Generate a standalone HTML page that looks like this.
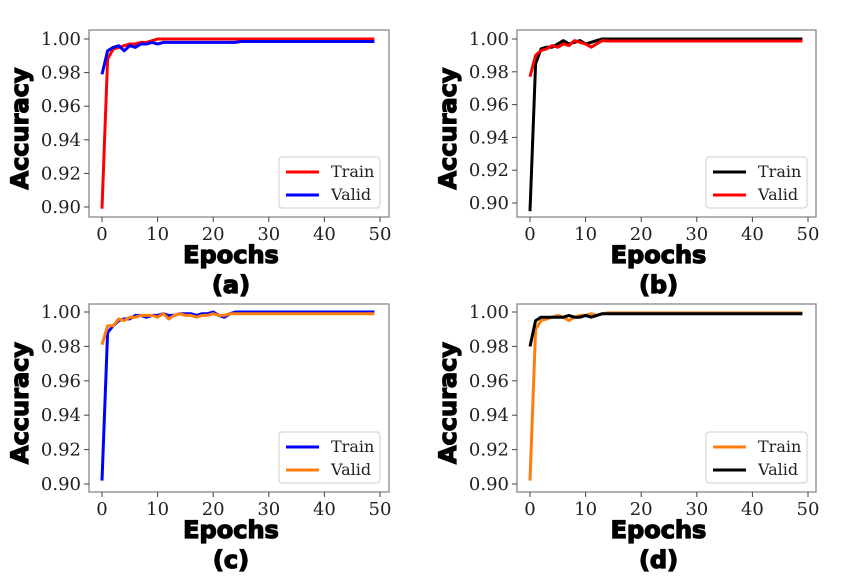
<!DOCTYPE html>
<html><head><meta charset="utf-8"><style>
body{margin:0;background:#fff;width:856px;height:585px;overflow:hidden}
svg{display:block}
.tick{font-family:"DejaVu Serif","Liberation Serif",serif;font-size:18px;fill:#222}
.lab{font-family:"DejaVu Sans","Liberation Sans",sans-serif;font-weight:bold;font-size:24px;fill:#000;stroke:#000;stroke-width:1.3px}
.leg{font-family:"DejaVu Serif","Liberation Serif",serif;font-size:16px;fill:#222}
</style></head><body>
<svg id="chart" width="856" height="585" viewBox="0 0 856 585"></svg>
<script>
const epochs = Array.from({length:50},(_,i)=>i);
const xTicks = [0,10,20,30,40,50];
const yTicks = [0.90,0.92,0.94,0.96,0.98,1.00];
function pad(a,v){const r=a.slice();while(r.length<50)r.push(v);return r;}
const aTrain = pad([0.899,0.988,0.994,0.995,0.996,0.997,0.997,0.998,0.998,0.999,1.0],1.0);
const aValid = pad([0.979,0.993,0.995,0.996,0.993,0.996,0.995,0.997,0.997,0.998,0.997,0.998,0.998,0.998,0.998,0.998,0.998,0.998,0.998,0.998,0.998,0.998,0.998,0.998,0.998],0.9985);
const bTrain = pad([0.895,0.985,0.994,0.995,0.995,0.997,0.999,0.997,0.998,0.999,0.997,0.998,0.999,1.0],1.0);
const bValid = pad([0.977,0.990,0.993,0.994,0.996,0.995,0.997,0.996,0.999,0.998,0.997,0.995,0.997,0.999],0.9988);
const cTrain = pad([0.902,0.988,0.992,0.995,0.996,0.996,0.998,0.998,0.997,0.998,0.998,0.999,0.998,0.998,0.999,0.999,0.999,0.998,0.999,0.999,1.0,0.998,0.997,0.999],1.0);
const cValid = pad([0.981,0.992,0.992,0.996,0.995,0.997,0.997,0.998,0.998,0.998,0.997,0.999,0.996,0.998,0.999,0.998,0.998,0.997,0.998,0.998,0.999,0.998,0.998,0.999],0.999);
const dTrain = pad([0.902,0.990,0.995,0.996,0.997,0.998,0.997,0.995,0.997,0.998,0.998,0.999,0.998,0.999],0.9995);
const dValid = pad([0.980,0.995,0.997,0.997,0.997,0.997,0.997,0.998,0.997,0.997,0.998,0.997,0.998,0.999],0.999);

const panels = [
 {id:'a',bx:89,by:30,bw:300,bh:187,x0:102,x1:380,y1:39,y0:207,s:[aTrain,aValid],c:['#ff0000','#0000ff'],ord:[0,1]},
 {id:'b',bx:517,by:30,bw:299,bh:187,x0:530,x1:808,y1:39,y0:203,s:[bTrain,bValid],c:['#000000','#ff0000'],ord:[0,1]},
 {id:'c',bx:89,by:304,bw:300,bh:188,x0:102,x1:380,y1:312,y0:484,s:[cTrain,cValid],c:['#0000ff','#ff7f0e'],ord:[0,1]},
 {id:'d',bx:517,by:304,bw:299,bh:188,x0:530,x1:808,y1:312,y0:484,s:[dTrain,dValid],c:['#ff7f0e','#000000'],ord:[0,1]}
];
const NS='http://www.w3.org/2000/svg';
const svg=document.getElementById('chart');
function mk(tag,attrs,parent,text){const e=document.createElementNS(NS,tag);for(const k in attrs)e.setAttribute(k,attrs[k]);if(text!==undefined)e.textContent=text;(parent||svg).appendChild(e);return e;}
panels.forEach(p=>{
 const g=mk('g',{});
 
 
 const X=v=>p.x0+(v/50)*(p.x1-p.x0);
 const Y=v=>p.y0+(v-0.90)/0.10*(p.y1-p.y0);
 const box=mk('rect',{x:p.bx,y:p.by,width:p.bw,height:p.bh,fill:'#fff',stroke:'#888','stroke-width':1.3},g);
 
 
 xTicks.forEach(t=>{
  mk('line',{x1:X(t),x2:X(t),y1:p.by+p.bh,y2:p.by+p.bh+5,stroke:'#444'},g);
  const tl=mk('text',{x:X(t),y:p.by+p.bh+23,'text-anchor':'middle',class:'tick'},g,String(t));
  
  
 });
 yTicks.forEach(t=>{
  mk('line',{x1:p.bx-5,x2:p.bx,y1:Y(t),y2:Y(t),stroke:'#444'},g);
  const tl=mk('text',{x:p.bx-8,y:Y(t)+6,'text-anchor':'end',class:'tick'},g,t.toFixed(2));
  
  
 });
 const names=['train','valid'];
 p.ord.forEach(i=>{
  const d=p.s[i].map((v,k)=>(k?'L':'M')+X(epochs[k]).toFixed(1)+' '+Y(v).toFixed(1)).join(' ');
  const path=mk('path',{d:d,fill:'none',stroke:p.c[i],'stroke-width':3,'stroke-linejoin':'round'},g);
  
  
 });
 const lx=p.bx+p.bw-110, ly=p.by+p.bh-60;
 const lg=mk('g',{},g);
 
 
 mk('rect',{x:lx,y:ly,width:101,height:51,rx:3,fill:'#fff',stroke:'#ccc'},lg);
 ['Train','Valid'].forEach((n,i)=>{
  mk('line',{x1:lx+7,x2:lx+40,y1:ly+15+i*23,y2:ly+15+i*23,stroke:p.c[i],'stroke-width':3},lg);
  const t=mk('text',{x:lx+52,y:ly+20+i*23,class:'leg'},lg,n);
  
  
 });
 const cx=(p.bx+p.bw/2);
 const xl=mk('text',{x:cx-8,y:p.by+p.bh+46,'text-anchor':'middle',class:'lab'},g,'Epochs');
 
 
 const cap=mk('text',{x:cx-8,y:p.by+p.bh+76,'text-anchor':'middle',class:'lab'},g,'('+p.id+')');
 
 
 const ylx=p.bx-61, yly=p.by+p.bh/2+5;
 const yl=mk('text',{x:ylx,y:yly,'text-anchor':'middle',class:'lab',transform:'rotate(-90 '+ylx+' '+yly+')'},g,'Accuracy');
 
 
});
</script>
</body></html>
